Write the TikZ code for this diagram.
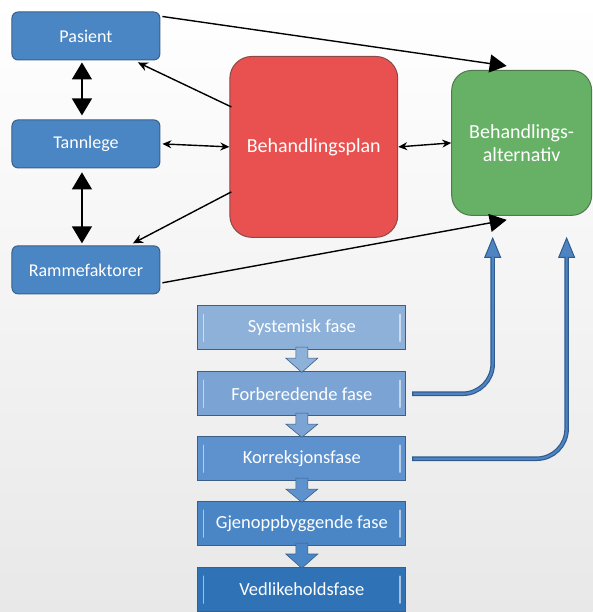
\documentclass[tikz,border=0pt]{standalone}
\usepackage{fontspec}
\setmainfont{Carlito}
\usetikzlibrary{arrows.meta,calc}
\definecolor{boxblue}{HTML}{4A86C4}
\definecolor{boxline}{HTML}{3B5F86}
\definecolor{planred}{HTML}{E8514F}
\definecolor{planline}{HTML}{8A4A48}
\definecolor{altgreen}{HTML}{67B167}
\definecolor{altline}{HTML}{4F7A4F}
\definecolor{phaseA}{HTML}{8EB1D9}
\definecolor{phaseB}{HTML}{7BA4D4}
\definecolor{phaseC}{HTML}{5E92CE}
\definecolor{phaseD}{HTML}{4A86C6}
\definecolor{phaseE}{HTML}{2F73B6}
\definecolor{feeddark}{HTML}{2F5A8E}
\definecolor{feedfill}{HTML}{4F84C2}
\tikzset{
  smallbox/.style={draw=boxline, fill=boxblue, rounded corners=6pt, line width=1pt,
    minimum width=148pt, minimum height=48pt, text=white,
    font=\fontsize{18}{20}\selectfont},
  bigbox/.style={rounded corners=22pt, line width=1pt, text=white, align=center,
    font=\fontsize{20}{23}\selectfont},
  phase/.style={draw=boxline, line width=0.8pt, minimum width=208pt, minimum height=44pt,
    text=white, font=\fontsize{18.5}{20}\selectfont},
  shine/.style={white, opacity=0.55, line width=1.5pt, line cap=round},
  conn/.style={line width=1.4pt, black},
  feedout/.style={line width=4.6pt, draw=feeddark, rounded corners=30pt,
    -{Triangle[length=21pt,width=17pt,fill=feedfill,line width=1pt]}},
  feedin/.style={line width=2.2pt, draw=feedfill, rounded corners=30pt,
    shorten >=20pt, shorten <=1.2pt}
}
\begin{document}
\begin{tikzpicture}[x=1pt,y=-1pt]
  \shade[top color=white, bottom color=black!9] (0,0) rectangle (593,612);

  % left column
  \node[smallbox] (pasient) at (86,36) {Pasient};
  \node[smallbox] (tann) at (86,144) {Tannlege};
  \node[smallbox] (ramme) at (86,270) {Rammefaktorer};

  % plan and alternatives
  \node[bigbox, draw=planline, fill=planred, minimum width=168pt, minimum height=181pt] (plan) at (314,147) {Behandlingsplan};
  \node[bigbox, rounded corners=20pt, draw=altline, fill=altgreen, minimum width=140pt, minimum height=145pt] (alt) at (522,143) {Behandlings-\\alternativ};

  % phases
  \node[phase, fill=phaseA] (sys) at (302,328) {Systemisk fase};
  \node[phase, fill=phaseB] (forb) at (302,394) {Forberedende fase};
  \node[phase, fill=phaseC] (korr) at (302,459) {Korreksjonsfase};
  \node[phase, fill=phaseD] (gjen) at (302,524) {Gjenoppbyggende fase};
  \node[phase, fill=phaseE] (vedl) at (302,590) {Vedlikeholdsfase};

  \foreach \p in {sys,forb,korr,gjen,vedl} {
    \draw[shine] ([xshift=6pt,yshift=-9pt]\p.north west) -- ([xshift=6pt,yshift=9pt]\p.south west);
    \draw[shine] ([xshift=-6pt,yshift=-9pt]\p.north east) -- ([xshift=-6pt,yshift=9pt]\p.south east);
  }

  \foreach \a/\b/\c in {sys/forb/phaseA, forb/korr/phaseB, korr/gjen/phaseC, gjen/vedl/phaseD}
    \filldraw[fill=\c, draw=boxline, line width=0.6pt]
      ($(\a.south)+(-6,-3)$) -- ($(\a.south)+(-6,8)$) -- ($(\a.south)+(-16,8)$)
      -- ($(\b.north)+(0,1)$) -- ($(\a.south)+(16,8)$) -- ($(\a.south)+(6,8)$)
      -- ($(\a.south)+(6,-3)$) -- cycle;

  % black connectors
  \draw[conn, {Triangle[length=17pt,width=20pt]}-{Triangle[length=17pt,width=20pt]}]
    ([xshift=-4pt,yshift=-2pt]pasient.south) -- ([xshift=-4pt,yshift=4pt]tann.north);
  \draw[conn, {Triangle[length=17pt,width=20pt]}-{Triangle[length=17pt,width=20pt]}]
    ([xshift=-4pt,yshift=-4pt]tann.south) -- ([xshift=-4pt,yshift=2pt]ramme.north);
  \draw[conn, {Stealth[length=9pt,width=8pt]}-{Stealth[length=9pt,width=8pt]}]
    ([xshift=2pt]tann.east) -- (plan.west);
  \draw[conn, {Stealth[length=9pt,width=8pt]}-{Stealth[length=9pt,width=8pt]}]
    (plan.east) -- (alt.west);
  \draw[conn, -{Stealth[length=10pt,width=9pt]}]
    ([xshift=2pt,yshift=40pt]plan.west) -- ([xshift=52pt,yshift=-2pt]pasient.south);
  \draw[conn, -{Stealth[length=10pt,width=9pt]}]
    ([xshift=2pt,yshift=-45pt]plan.west) -- ([xshift=47pt,yshift=2pt]ramme.north);
  \draw[conn, -{Triangle[length=17pt,width=18pt]}]
    ([xshift=2pt,yshift=-5pt]pasient.north east) -- ([xshift=-15pt,yshift=4pt]alt.north);
  \draw[conn, -{Triangle[length=17pt,width=18pt]}]
    ([xshift=2pt,yshift=-13pt]ramme.east) -- ([xshift=-15pt,yshift=-4pt]alt.south);

  % feedback from the phases
  \coordinate (tipA) at (493,237);
  \coordinate (tipB) at (567,237);
  \foreach \a/\t in {forb/tipA, korr/tipB} {
    \draw[feedout] ([xshift=6pt]\a.east) -| (\t);
    \draw[feedin] ([xshift=6pt]\a.east) -| (\t);
  }
\end{tikzpicture}
\end{document}
